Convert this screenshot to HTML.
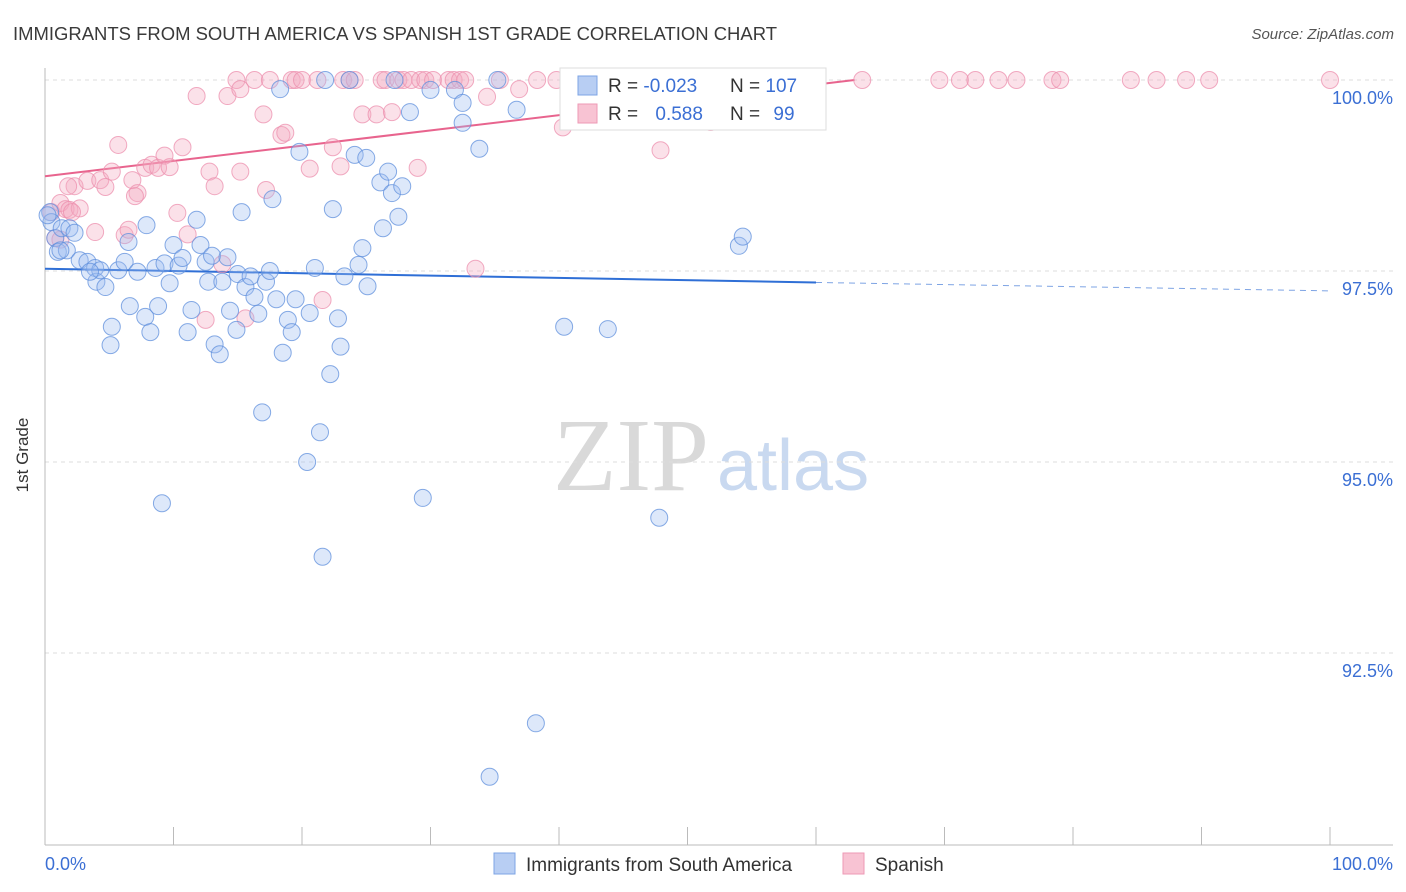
<!DOCTYPE html>
<html><head><meta charset="utf-8"><style>
body{margin:0;background:#fff;font-family:"Liberation Sans",sans-serif;}
svg{display:block}
</style></head><body>
<svg id="chart" width="1406" height="892">
<text x="13" y="40" font-size="18" fill="#3a3a3a" textLength="764" lengthAdjust="spacingAndGlyphs">IMMIGRANTS FROM SOUTH AMERICA VS SPANISH 1ST GRADE CORRELATION CHART</text>
<text x="1394" y="39" font-size="15" font-style="italic" fill="#555" text-anchor="end">Source: ZipAtlas.com</text>
<g>
<text x="553" y="490" font-family="Liberation Serif,serif" font-size="104" fill="#d9d9d9">ZIP</text>
<text x="717" y="490" font-size="72" fill="#c9d9f0">atlas</text>
</g>
<g id="grid"></g><g id="axes"></g><g id="trends"></g><g id="pts"></g>
<text x="28" y="455" font-size="17" fill="#333" transform="rotate(-90 28 455)" text-anchor="middle">1st Grade</text>
<text x="45" y="870" font-size="18" fill="#3b6fd4">0.0%</text>
<text x="1393" y="870" font-size="18" fill="#3b6fd4" text-anchor="end">100.0%</text>
<g>
<rect x="560" y="68" width="266" height="62" fill="#fff" stroke="#ddd"/>
<rect x="578" y="76" width="19" height="19" fill="#b8cef3" stroke="#7ea4e4"/>
<rect x="578" y="104" width="19" height="19" fill="#f8c3d3" stroke="#ee9ab6"/>
<text x="608" y="92" font-size="19" fill="#333">R = <tspan fill="#3b6fd4">-0.023</tspan></text>
<text x="730" y="92" font-size="19" fill="#333">N = <tspan fill="#3b6fd4">107</tspan></text>
<text x="608" y="120" font-size="19" fill="#333">R = <tspan fill="#3b6fd4" dx="12">0.588</tspan></text>
<text x="730" y="120" font-size="19" fill="#333">N = <tspan fill="#3b6fd4" dx="8">99</tspan></text>
</g>
<g>
<rect x="494" y="853" width="21" height="21" fill="#b8cef3" stroke="#7ea4e4"/>
<text x="526" y="871" font-size="19" fill="#333">Immigrants from South America</text>
<rect x="843" y="853" width="21" height="21" fill="#f8c3d3" stroke="#ee9ab6"/>
<text x="875" y="871" font-size="19" fill="#333">Spanish</text>
</g>
</svg>
<script>
const yTicks=[100,97.5,95,92.5];
const yTickLabels=["100.0%","97.5%","95.0%","92.5%"];
const xTicks=[0,10,20,30,40,50,60,70,80,90,100];
const blueX=[0.4,0.5,0.8,1.0,1.3,1.7,1.9,2.3,2.7,3.3,3.9,4.0,4.3,4.7,5.2,5.1,5.7,6.2,6.5,6.6,7.2,7.8,7.9,8.2,8.6,8.8,9.3,9.7,10.0,10.4,10.7,11.1,11.4,11.8,12.1,12.5,12.7,13.0,13.2,13.6,13.8,14.2,14.4,14.9,15.0,15.3,15.6,16.0,16.3,16.6,16.9,17.2,17.5,17.7,18.0,18.3,18.5,18.9,19.2,19.5,19.8,20.4,20.6,21.0,21.4,21.6,21.8,22.2,22.4,22.8,23.0,23.3,23.7,24.1,24.4,24.7,25.0,25.1,26.1,26.3,26.7,27.0,27.5,27.8,27.2,28.4,29.4,30.0,31.9,32.5,32.5,33.8,34.6,35.2,36.7,38.2,40.4,43.8,47.8,54.0,54.3,9.1,1.2,3.5,0.2];
const blueY=[98.27,98.14,97.93,97.75,98.06,97.77,98.06,98.00,97.64,97.62,97.54,97.36,97.51,97.29,96.77,96.53,97.51,97.62,97.88,97.04,97.49,96.90,98.10,96.70,97.54,97.04,97.60,97.34,97.84,97.57,97.67,96.70,96.99,98.17,97.84,97.62,97.36,97.70,96.54,96.41,97.36,97.68,96.98,96.73,97.46,98.27,97.29,97.43,97.16,96.94,95.65,97.36,97.50,98.44,97.13,99.88,96.43,96.86,96.70,97.13,99.06,95.00,96.95,97.54,95.39,93.76,100,96.15,98.31,96.88,96.51,97.43,100,99.02,97.58,97.80,98.98,97.30,98.66,98.06,98.80,98.52,98.21,98.61,100,99.58,94.53,99.87,99.87,99.70,99.44,99.10,90.88,100,99.61,91.58,96.77,96.74,94.27,97.83,97.95,94.46,97.77,97.49,98.23];
const pinkX=[0.5,0.8,1.2,1.6,1.9,2.3,2.7,3.3,3.9,4.3,4.7,5.2,5.7,6.2,6.8,7.2,7.8,8.3,8.8,9.3,9.7,10.3,10.7,11.1,11.8,12.5,12.8,13.2,13.8,14.2,14.9,15.2,15.6,16.3,17.0,17.2,17.5,18.4,18.7,19.2,19.5,20.0,20.6,21.2,21.6,22.4,23.0,23.2,23.7,24.1,24.7,25.8,26.2,26.5,27.0,27.5,27.9,28.5,29.0,29.2,29.6,30.2,31.4,31.8,32.3,32.7,33.5,34.4,35.4,36.9,38.3,39.8,40.3,42.3,44.0,46.6,47.9,49.6,51.8,52.2,55.3,56.4,63.6,69.6,71.2,72.4,74.2,75.6,78.4,79.0,84.5,86.5,88.8,90.6,100,1.2,2.1,6.5,1.8,7.0,15.2];
const pinkY=[98.27,97.93,98.39,98.31,98.30,98.61,98.32,98.68,98.01,98.69,98.60,98.80,99.15,97.97,98.69,98.52,98.85,98.89,98.85,99.01,98.86,98.26,99.12,97.98,99.79,96.86,98.80,98.61,97.59,99.79,100,98.80,96.88,100,99.55,98.56,100,99.28,99.31,100,100,100,98.84,100,97.12,99.12,98.87,100,100,100,99.55,99.55,100,100,99.58,100,100,100,98.85,100,100,100,100,100,100,100,97.53,99.78,100,99.88,100,100,99.38,100,100,100,99.08,100,99.45,100,100,100,100,100,100,100,100,100,100,100,100,100,100,100,100,97.91,98.27,98.04,98.61,98.48,99.88];
const blueTrendX=[0,60,100];
const blueTrendY=[97.53,97.35,97.24];
const pinkTrendX=[0,63];
const pinkTrendY=[98.74,100];
const NS="http://www.w3.org/2000/svg";
const X=v=>45+v/100*1285;
const Y=v=>80+(100-v)/10*764;
function mk(t,a,p){const e=document.createElementNS(NS,t);for(const k in a)e.setAttribute(k,a[k]);document.getElementById(p).appendChild(e);return e;}
yTicks.forEach((t,i)=>{
 const l=mk('line',{x1:45,x2:1393,y1:Y(t),y2:Y(t),stroke:'#ddd','stroke-dasharray':'4,4'},'grid');
 
 
 const tx=mk('text',{x:1393,y:Y(t)+24,'font-size':18,fill:'#3b6fd4','text-anchor':'end'},'grid');
 tx.textContent=yTickLabels[i];
 
 
});
const ax=mk('line',{x1:45,x2:1393,y1:845,y2:845,stroke:'#bbb'},'axes');


const ay=mk('line',{x1:45,x2:45,y1:68,y2:845,stroke:'#bbb'},'axes');


xTicks.forEach(t=>{
 const l=mk('line',{x1:X(t),x2:X(t),y1:827,y2:845,stroke:'#bbb'},'axes');
 
 
});
function pts(xs,ys,fill,stroke,name){xs.forEach((x,i)=>{
 const c=mk('circle',{cx:X(x),cy:Y(ys[i]),r:8.5,fill:fill,'fill-opacity':0.35,stroke:stroke,'stroke-opacity':0.75,'stroke-width':1},'pts');
 
 
});}
pts(pinkX,pinkY,'#f4a9c1','#ec8fae','spanish-point');
pts(blueX,blueY,'#9dbcf0','#5f8fdc','south-america-point');
const b1=mk('line',{x1:X(blueTrendX[0]),y1:Y(blueTrendY[0]),x2:X(blueTrendX[1]),y2:Y(blueTrendY[1]),stroke:'#2f6fd6','stroke-width':2},'trends');


const b2=mk('line',{x1:X(blueTrendX[1]),y1:Y(blueTrendY[1]),x2:X(blueTrendX[2]),y2:Y(blueTrendY[2]),stroke:'#7ea4e4','stroke-width':1,'stroke-dasharray':'6,5'},'trends');


const p1=mk('line',{x1:X(pinkTrendX[0]),y1:Y(pinkTrendY[0]),x2:X(pinkTrendX[1]),y2:Y(pinkTrendY[1]),stroke:'#e8648e','stroke-width':2},'trends');


</script>
</body></html>
